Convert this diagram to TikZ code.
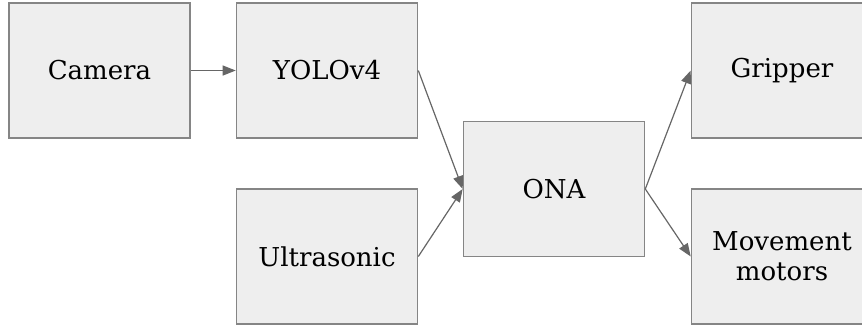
\documentclass[tikz,border=0pt]{standalone}
\usepackage{fontspec}
\setmainfont{DejaVu Serif}
\usetikzlibrary{arrows.meta}
\definecolor{boxFill}{HTML}{EEEEEE}
\definecolor{boxLine}{HTML}{858585}
\definecolor{linkLine}{HTML}{666666}
\tikzset{
  unit/.style  = {rectangle, draw=boxLine, fill=boxFill, line width=0.8pt,
                  minimum width=90.5pt, minimum height=67.5pt, align=center,
                  inner sep=0pt, font=\fontsize{13}{15}\selectfont},
  link/.style  = {-{Triangle[length=6.5pt, width=5pt]}, line width=0.6pt, draw=linkLine},
}
\begin{document}
\begin{tikzpicture}[x=0.5pt, y=-0.5pt]
  \useasboundingbox (0,0) rectangle (862,328);
  \clip (0,0) rectangle (862,328);
  % sensors and detection
  \node[unit] (cam)   at (99.5, 70.5)  {Camera};
  \node[unit] (yolo)  at (327, 70.5)   {YOLOv4};
  \node[unit] (sonar) at (327, 256.5)  {Ultrasonic};
  % reasoner
  \node[unit] (ona)   at (554, 189)    {ONA};
  % actuators
  \node[unit] (grip)  at (782, 70.5)   {Gripper};
  \node[unit] (motor) at (782, 256.5)  {Movement\\motors};
  % connections
  \draw[link] (cam.east)   -- (yolo.west);
  \draw[link] (yolo.east)  -- (ona.west);
  \draw[link] (sonar.east) -- (ona.west);
  \draw[link] (ona.east)   -- (grip.west);
  \draw[link] (ona.east)   -- (motor.west);
\end{tikzpicture}
\end{document}
